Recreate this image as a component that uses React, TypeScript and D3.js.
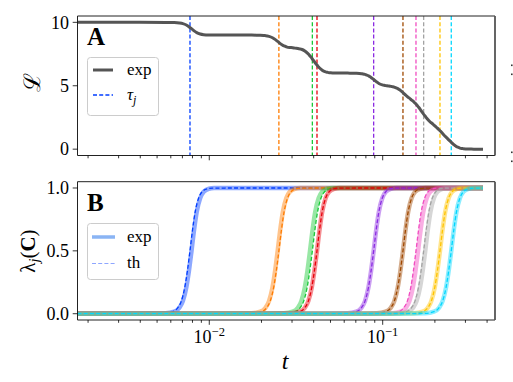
import React from "react";
import * as d3 from "d3";

// ---- data ----
const seriesColors = ["#023eff", "#ff7c00", "#1ac938", "#e8000b", "#8b2be2", "#9f4800", "#f14cc1", "#a3a3a3", "#ffc400", "#00d7ff"];
const tauTh = [0.00774, 0.0252, 0.0393, 0.0418, 0.0887, 0.1309, 0.1556, 0.1723, 0.214, 0.2486];
const tauExp = [0.0079, 0.0248, 0.0381, 0.0418, 0.0887, 0.1309, 0.1600, 0.1760, 0.214, 0.2486];
// shape of one transition, offset in decades from tau -> lambda
const profileOffset = [-0.3, -0.15, -0.1, -0.07, -0.05, -0.03, -0.015, 0, 0.015, 0.03, 0.05, 0.07, 0.1, 0.13, 0.3];
const profileValue = [0, 0.003, 0.016, 0.048, 0.1, 0.21, 0.34, 0.5, 0.67, 0.81, 0.92, 0.97, 0.994, 0.999, 1];
const lossStart = 10;
const tRange = [0.001738, 0.379];
const xDomain = [0.001738, 0.4443];
const xMajorTicks = [0.01, 0.1];
const xMajorLabels = ["−2", "−1"];
const topYTicks = [0, 5, 10];
const bottomYTicks = [0, 0.5, 1];
const bottomYLabels = ["0.0", "0.5", "1.0"];

const W = 513, H = 382;
const X0 = 77.5, X1 = 495;
const TOP = { y0: 16, y1: 155.5 };
const BOT = { y0: 181.7, y1: 320 };
const FONT = "'Liberation Serif', 'Times New Roman', 'DejaVu Serif', serif";

const x = d3.scaleLog().domain(xDomain).range([X0, X1]);
const yTop = d3.scaleLinear().domain([-0.5, 10.5]).range([TOP.y1, TOP.y0]);
const yBot = d3.scaleLinear().domain([-0.05, 1.05]).range([BOT.y1, BOT.y0]);

const prof = d3.scaleLinear().domain(profileOffset).range(profileValue).clamp(true);
const lam = (t: number, tau: number) => prof(Math.log10(t / tau));

function curvePoints(tau: number): [number, number][] {
  const ts = [tRange[0], ...profileOffset.map((o) => tau * Math.pow(10, o)).filter((t) => t > tRange[0] && t < tRange[1]), tRange[1]];
  return ts.map((t) => [t, lam(t, tau)]);
}

function lossPoints(): [number, number][] {
  const ts: number[] = [tRange[0], tRange[1]];
  tauExp.forEach((tau) => profileOffset.forEach((o) => {
    const t = tau * Math.pow(10, o);
    if (t > tRange[0] && t < tRange[1]) ts.push(t);
  }));
  ts.sort((a, b) => a - b);
  return ts.map((t) => [t, lossStart - d3.sum(tauExp, (tau) => lam(t, tau))]);
}

const minorTicks: number[] = [];
for (let e = -3; e <= -1; e++) for (let m = 2; m <= 9; m++) {
  const v = m * Math.pow(10, e);
  if (v > xDomain[0] && v < xDomain[1]) minorTicks.push(v);
}

function XTicks({ y1 }: { y1: number }) {
  return (
    <g stroke="#000" strokeWidth={0.8}>
      {minorTicks.map((t) => <line key={"m" + t} x1={x(t)} x2={x(t)} y1={y1} y2={y1 + 2.8} />)}
      {xMajorTicks.map((t) => <line key={"M" + t} x1={x(t)} x2={x(t)} y1={y1} y2={y1 + 4.8} />)}
    </g>
  );
}

function Frame({ y0, y1 }: { y0: number; y1: number }) {
  return (
    <g fill="none">
      <line x1={X0} x2={X1} y1={y0} y2={y0} stroke="#222" strokeWidth={1} />
      <line x1={X0} x2={X1} y1={y1} y2={y1} stroke="#222" strokeWidth={1} />
      <line x1={X0} x2={X0} y1={y0} y2={y1} stroke="#222" strokeWidth={1} />
      <line x1={X1} x2={X1} y1={y0} y2={y1} stroke="#555" strokeWidth={1.8} />
    </g>
  );
}

export default function App() {
  const lineTop = d3.line<[number, number]>().curve(d3.curveMonotoneX).x((d) => x(d[0])).y((d) => yTop(d[1]));
  const topPath = lineTop(lossPoints()) || "";
  const lineBot = d3.line<[number, number]>().curve(d3.curveMonotoneX).x((d) => x(d[0])).y((d) => yBot(d[1]));

  return (
    <svg width={W} height={H} style={{ position: "absolute", left: 0, top: 0, background: "#fff" }} fontFamily={FONT}>
      <defs>
        <clipPath id="clipTop"><rect x={X0} y={TOP.y0} width={X1 - X0} height={TOP.y1 - TOP.y0} /></clipPath>
        <clipPath id="clipBot"><rect x={X0} y={BOT.y0} width={X1 - X0} height={BOT.y1 - BOT.y0} /></clipPath>
      </defs>
      <rect width={W} height={H} fill="#fff" />

      {/* ---------- Panel A ---------- */}
      <g clipPath="url(#clipTop)">
        {tauTh.map((tau, i) => (
          <line key={i} x1={x(tau)} x2={x(tau)} y1={TOP.y0} y2={TOP.y1} stroke={seriesColors[i]} strokeWidth={1.3} strokeDasharray="4,2.2" />
        ))}
        <path d={topPath} fill="none" stroke="#555" strokeWidth={3} strokeLinejoin="round" />
      </g>
      <Frame y0={TOP.y0} y1={TOP.y1} />
      <XTicks y1={TOP.y1} />
      {topYTicks.map((v) => (
        <g key={v}>
          <line x1={X0 - 4.8} x2={X0} y1={yTop(v)} y2={yTop(v)} stroke="#000" strokeWidth={0.8} />
          <text x={X0 - 8.5} y={yTop(v)} dy="0.35em" textAnchor="end" fontSize={18}>{v}</text>
        </g>
      ))}
      <text x={87} y={45} fontSize={25} fontWeight="bold">A</text>
      <text transform="translate(40,82) rotate(-90)" textAnchor="middle" fontSize={23}>ℒ</text>
      {/* legend A */}
      <rect x={87.5} y={57.5} width={71} height={58} rx={3} fill="#fff" fillOpacity={0.8} stroke="#ccc" strokeWidth={1} />
      <line x1={93} x2={113} y1={70} y2={70} stroke="#555" strokeWidth={3} />
      <text x={127} y={75} fontSize={17}>exp</text>
      <line x1={93} x2={113} y1={95} y2={95} stroke={seriesColors[0]} strokeWidth={1.3} strokeDasharray="4,2.2" />
      <text x={127} y={100} fontSize={17} fontStyle="italic">τ<tspan dy={4} fontSize={12}>j</tspan></text>

      {/* ---------- Panel B ---------- */}
      <g clipPath="url(#clipBot)">
        {tauTh.map((tau, i) => (
          <g key={i}>
            <path d={lineBot(curvePoints(tauExp[i])) || ""} fill="none" stroke={seriesColors[i]} strokeOpacity={0.45} strokeWidth={4.5} />
            <path d={lineBot(curvePoints(tau)) || ""} fill="none" stroke={seriesColors[i]} strokeWidth={1.3} strokeDasharray="4,2.2" />
          </g>
        ))}
      </g>
      <Frame y0={BOT.y0} y1={BOT.y1} />
      <XTicks y1={BOT.y1} />
      {xMajorTicks.map((t, i) => (
        <text key={t} x={x(t)} y={343} textAnchor="middle" fontSize={18}>10<tspan dy={-7} fontSize={12.5}>{xMajorLabels[i]}</tspan></text>
      ))}
      {bottomYTicks.map((v, i) => (
        <g key={v}>
          <line x1={X0 - 4.8} x2={X0} y1={yBot(v)} y2={yBot(v)} stroke="#000" strokeWidth={0.8} />
          <text x={X0 - 8.5} y={yBot(v)} dy="0.35em" textAnchor="end" fontSize={18}>{bottomYLabels[i]}</text>
        </g>
      ))}
      <text x={87} y={211} fontSize={25} fontWeight="bold">B</text>
      <text x={285} y={369} textAnchor="middle" fontSize={24} fontStyle="italic">t</text>
      <text transform="translate(35,251) rotate(-90)" textAnchor="middle" fontSize={21}>
        λ<tspan dy={4} fontSize={14} fontStyle="italic">j</tspan><tspan dy={-4}>(</tspan><tspan fontWeight="bold">C</tspan>)
      </text>
      {/* legend B */}
      <rect x={87.5} y={223.5} width={71} height={56} rx={3} fill="#fff" fillOpacity={0.8} stroke="#ccc" strokeWidth={1} />
      <line x1={92} x2={115} y1={237} y2={237} stroke="#8ab4f4" strokeWidth={3.5} />
      <text x={127} y={242} fontSize={17}>exp</text>
      <line x1={92} x2={115} y1={263.5} y2={263.5} stroke="#8ea6ff" strokeWidth={1} strokeDasharray="4,2.2" />
      <text x={127} y={268} fontSize={17}>th</text>

      {/* glyph fragments of a neighbouring panel at the right edge */}
      <g fill="#333">
        <rect x={511} y={64.5} width={1.6} height={1.6} />
        <rect x={511} y={73.5} width={1.6} height={1.6} />
        <rect x={511} y={151.5} width={1.6} height={1.6} />
        <rect x={511} y={160.5} width={1.6} height={1.6} />
      </g>
    </svg>
  );
}
